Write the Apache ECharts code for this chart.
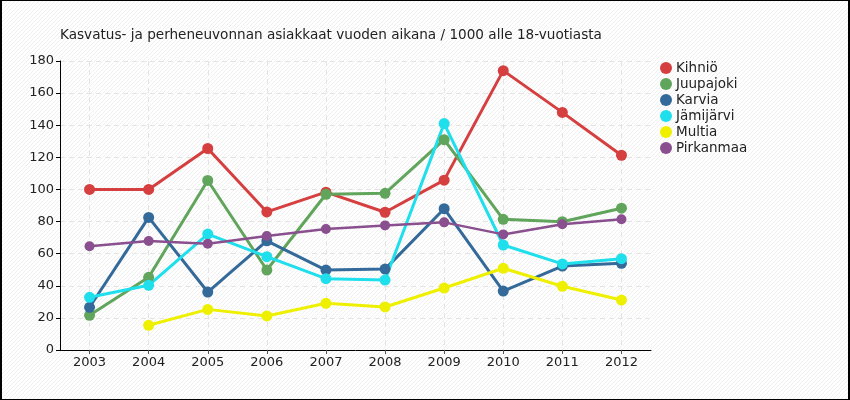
<!DOCTYPE html>
<html>
<head>
<meta charset="utf-8">
<script src="https://cdn.jsdelivr.net/npm/echarts@6/dist/echarts.min.js"></script>
<style>
html,body{margin:0;padding:0;background:#fff;}
#wrap{position:relative;width:850px;height:400px;background-color:#fff;
background-image:url("data:image/svg+xml;utf8,<svg xmlns='http://www.w3.org/2000/svg' width='4' height='4' shape-rendering='crispEdges'><rect x='0' y='3' width='1' height='1' fill='%23f0f0f0'/><rect x='1' y='2' width='1' height='1' fill='%23f0f0f0'/><rect x='2' y='1' width='1' height='1' fill='%23f0f0f0'/><rect x='3' y='0' width='1' height='1' fill='%23f0f0f0'/></svg>");
background-size:4px 4px;background-repeat:repeat;}
#chart{position:absolute;left:0;top:0;width:850px;height:400px;}
#frame{position:absolute;left:0;top:0;width:850px;height:400px;box-sizing:border-box;
border-style:solid;border-color:#000;border-width:1px 2px 1px 2px;pointer-events:none;}
</style>
</head>
<body>
<div id="wrap"><div id="chart"></div><div id="frame"></div></div>
<script>
const titleText = 'Kasvatus- ja perheneuvonnan asiakkaat vuoden aikana / 1000 alle 18-vuotiasta';
const years = [2003, 2004, 2005, 2006, 2007, 2008, 2009, 2010, 2011, 2012];
const seriesNames = ['Kihniö', 'Juupajoki', 'Karvia', 'Jämijärvi', 'Multia', 'Pirkanmaa'];
const kihnio    = [100, 100, 125.5, 86, 98.3, 85.8, 105.8, 174, 148, 121.3];
const juupajoki = [21.6, 45.3, 105.6, 49.8, 97, 97.6, 131, 81.4, 79.9, 88.3];
const karvia    = [26.6, 82.6, 36.1, 68, 49.8, 50.4, 88, 36.7, 52.3, 54];
const jamijarvi = [32.8, 40.3, 72.2, 58.1, 44.4, 43.6, 141, 65.4, 53.6, 56.9];
const multia    = [null, 15.4, 25.3, 21.2, 29.1, 26.8, 38.6, 50.9, 39.7, 31.1];
const pirkanmaa = [64.6, 67.9, 66.2, 71, 75.4, 77.6, 79.5, 72, 78.3, 81.4];
const yTicks = [0, 20, 40, 60, 80, 100, 120, 140, 160, 180];

const values = [kihnio, juupajoki, karvia, jamijarvi, multia, pirkanmaa];
const colors = ['#d63f3f', '#60a55b', '#336a9a', '#20dfec', '#eef000', '#8a4f8e'];
const widths = [3, 3, 3, 3, 3, 2.5];
const sizes = [11, 11, 11, 11, 11, 10];

const font = 'DejaVu Sans';
const chart = echarts.init(document.getElementById('chart'), null, {renderer: 'canvas'});
chart.setOption({
  backgroundColor: 'transparent',
  animation: false,
  title: {
    text: titleText, left: 55, top: 23,
    textStyle: {fontFamily: font, fontSize: 13.6, fontWeight: 'normal', color: '#222'}
  },
  legend: {
    orient: 'vertical', left: 655, top: 56, itemGap: 2,
    itemWidth: 12, itemHeight: 12, icon: 'circle',
    textStyle: {fontFamily: font, fontSize: 13.5, color: '#222', padding: [0,0,0,-1]},
    data: seriesNames
  },
  grid: {left: 60, top: 61, width: 591, height: 289, containLabel: false},
  xAxis: {
    type: 'value', min: years[0] - 0.5, max: years[years.length - 1] + 0.5,
    axisLine: {show: true, lineStyle: {color: '#000', width: 1}},
    axisTick: {show: true, length: 4, customValues: years, lineStyle: {color: '#555'}},
    axisLabel: {customValues: years, fontFamily: font, fontSize: 13, color: '#222', margin: 6,
      formatter: v => String(v)},
    splitLine: {show: true, lineStyle: {type: [5, 4], color: '#e4e4e4', width: 1}}
  },
  yAxis: {
    type: 'value', min: yTicks[0], max: yTicks[yTicks.length - 1], interval: 20,
    axisLine: {show: true, lineStyle: {color: '#000', width: 1}},
    axisTick: {show: true, length: 4, lineStyle: {color: '#000'}},
    axisLabel: {fontFamily: font, fontSize: 13, color: '#222', margin: 6},
    splitLine: {show: true, lineStyle: {type: [5, 4], color: '#e4e4e4', width: 1}}
  },
  series: seriesNames.map((name, i) => ({
    name: name, type: 'line',
    data: years.map((y, j) => [y, values[i][j]]),
    connectNulls: false,
    symbol: 'circle', symbolSize: sizes[i],
    lineStyle: {color: colors[i], width: widths[i]},
    itemStyle: {color: colors[i]},
    emphasis: {disabled: true}
  }))
});
</script>
</body>
</html>
